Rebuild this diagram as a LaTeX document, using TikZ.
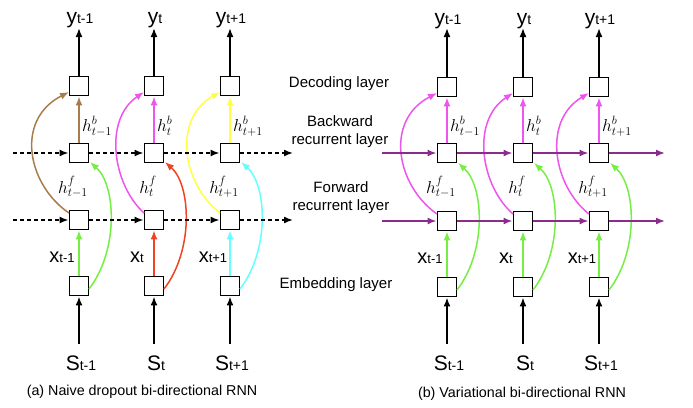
\documentclass[tikz,border=0pt]{standalone}
\usepackage{fontspec}
\setmainfont{Liberation Sans}
\usetikzlibrary{arrows.meta}
\definecolor{cbrown}{HTML}{A87C4C}
\definecolor{cmag}{HTML}{EE55EE}
\definecolor{cyel}{HTML}{FFFF44}
\definecolor{cred}{HTML}{EE4422}
\definecolor{cgreen}{HTML}{77EE44}
\definecolor{ccyan}{HTML}{66FFFF}
\definecolor{cpurp}{HTML}{8B2C8B}
\newcommand\mybiglbl[2]{{\fontsize{21}{21}\selectfont #1}{\fontsize{14}{14}\selectfont #2}}
\newcommand\myxlbl[2]{{\fontsize{20}{20}\selectfont #1}{\fontsize{13}{13}\selectfont #2}}
\newcommand\myhlbl[1]{{\fontsize{18.5}{18.5}\selectfont$#1$}}
\begin{document}
\begin{tikzpicture}[x=1pt,y=-1pt,
  box/.style={draw, line width=1.9pt, minimum size=19pt, inner sep=0pt},
  tipped/.style={-{Latex[length=9pt,width=7pt]}},
  blk/.style={tipped, line width=1.7pt},
  colr/.style={tipped, line width=1.5pt},
  dsh/.style={tipped, line width=1.6pt, dash pattern=on 4pt off 3pt},
  purp/.style={tipped, line width=1.7pt, draw=cpurp, -{Latex[length=9pt,width=7pt]}},
  lay/.style={font=\fontsize{15}{18}\selectfont, align=center, inner sep=0pt},
  captxt/.style={font=\fontsize{14.3}{16}\selectfont, inner sep=0pt},
  lab/.style={inner sep=0pt, anchor=base}]
\useasboundingbox (0,0) rectangle (693,407);

% ---------- panel (a)
\foreach \c/\i/\sub/\lc/\rc/\lm in {79/1/t-1/cbrown/cgreen/46, 154/2/t/cmag/cred/37, 230/3/t+1/cyel/ccyan/42}{
  \node[box] (ad\i) at (\c,86) {};
  \node[box] (ab\i) at (\c,153) {};
  \node[box] (af\i) at (\c,220) {};
  \node[box] (ae\i) at (\c,286) {};
  \node[lab] (ay\i) at (\c+1,23) {\mybiglbl{y}{\sub}};
  \node[lab] (as\i) at (\c+2,370) {\mybiglbl{S}{\sub}};
  \node[lab] (ax\i) at (\c-17,262) {\myxlbl{x}{\sub}};
  \node[lab, anchor=base west] (ahb\i) at (\c+3,131) {\myhlbl{h^b_{\sub}}};
  \node[lab] (ahf\i) at (\c-6,193) {\myhlbl{h^f_{\sub}}};
  \coordinate (ayt\i) at (\c,28);
  \coordinate (ast\i) at (\c,344);
  \draw[blk] (ad\i.north) -- (ayt\i);
  \draw[blk] (ast\i) -- (ae\i.south);
  \draw[colr, draw=\lc] (ab\i.north) -- (ad\i.south);
  \draw[colr, draw=\rc] (ae\i.north) -- (af\i.south);
  \pgfmathsetmacro\sa{(\lm-10)*8/3*0.43}
  \pgfmathsetmacro\sb{(\lm-10)*8/3*0.57}
  \draw[colr, draw=\lc] (\c-10,213) .. controls (\c-10-\sa,185) and (\c-10-\sb,120) .. (\c-10,92);
  \draw[colr, draw=\rc] (\c+10,289) .. controls (\c+40,250) and (\c+37,185) .. (\c+11,162);
}
\coordinate (abs) at (13,153);
\coordinate (abe) at (293,153);
\coordinate (afs) at (13,220);
\coordinate (afe) at (293,220);
\draw[dsh] (abs) -- (ab1.west);
\draw[dsh] (ab1.east) -- (ab2.west);
\draw[dsh] (ab2.east) -- (ab3.west);
\draw[dsh] (ab3.east) -- (abe);
\draw[dsh] (afs) -- (af1.west);
\draw[dsh] (af1.east) -- (af2.west);
\draw[dsh] (af2.east) -- (af3.west);
\draw[dsh] (af3.east) -- (afe);

% ---------- middle labels
\node[lay] (l1) at (339,84) {Decoding layer};
\node[lay] (l2) at (340,132) {Backward\\recurrent layer};
\node[lay] (l3) at (341,198) {Forward\\recurrent layer};
\node[lay] (l4) at (336,285) {Embedding layer};

% ---------- panel (b)
\foreach \c/\i/\sub/\lm in {447/1/t-1/45, 523/2/t/38, 599/3/t+1/41}{
  \node[box] (bd\i) at (\c,87) {};
  \node[box] (bb\i) at (\c,153) {};
  \node[box] (bf\i) at (\c,221) {};
  \node[box] (be\i) at (\c,287) {};
  \node[lab] (by\i) at (\c+1,24) {\mybiglbl{y}{\sub}};
  \node[lab] (bs\i) at (\c+2,370) {\mybiglbl{S}{\sub}};
  \node[lab] (bx\i) at (\c-17,263) {\myxlbl{x}{\sub}};
  \node[lab, anchor=base west] (bhb\i) at (\c+3,131) {\myhlbl{h^b_{\sub}}};
  \node[lab] (bhf\i) at (\c-6,193) {\myhlbl{h^f_{\sub}}};
  \coordinate (byt\i) at (\c,28);
  \coordinate (bst\i) at (\c,344);
  \draw[blk] (bd\i.north) -- (byt\i);
  \draw[blk] (bst\i) -- (be\i.south);
  \draw[colr, draw=cmag] (bb\i.north) -- (bd\i.south);
  \draw[colr, draw=cgreen] (be\i.north) -- (bf\i.south);
  \pgfmathsetmacro\sa{(\lm-10)*8/3*0.43}
  \pgfmathsetmacro\sb{(\lm-10)*8/3*0.57}
  \draw[colr, draw=cmag] (\c-10,214) .. controls (\c-10-\sa,186) and (\c-10-\sb,121) .. (\c-10,93);
  \draw[colr, draw=cgreen] (\c+10,290) .. controls (\c+40,251) and (\c+37,186) .. (\c+11,163);
}
\coordinate (bbs) at (382,153);
\coordinate (bbe) at (665,153);
\coordinate (bfs) at (382,221);
\coordinate (bfe) at (665,221);
\draw[purp] (bbs) -- (bb1.west);
\draw[purp] (bb1.east) -- (bb2.west);
\draw[purp] (bb2.east) -- (bb3.west);
\draw[purp] (bb3.east) -- (bbe);
\draw[purp] (bfs) -- (bf1.west);
\draw[purp] (bf1.east) -- (bf2.west);
\draw[purp] (bf2.east) -- (bf3.west);
\draw[purp] (bf3.east) -- (bfe);

% ---------- captions
\node[captxt] (capa) at (142,392) {(a) Naive dropout bi-directional RNN};
\node[captxt] (capb) at (522,394) {(b) Variational bi-directional RNN};
\end{tikzpicture}
\end{document}
